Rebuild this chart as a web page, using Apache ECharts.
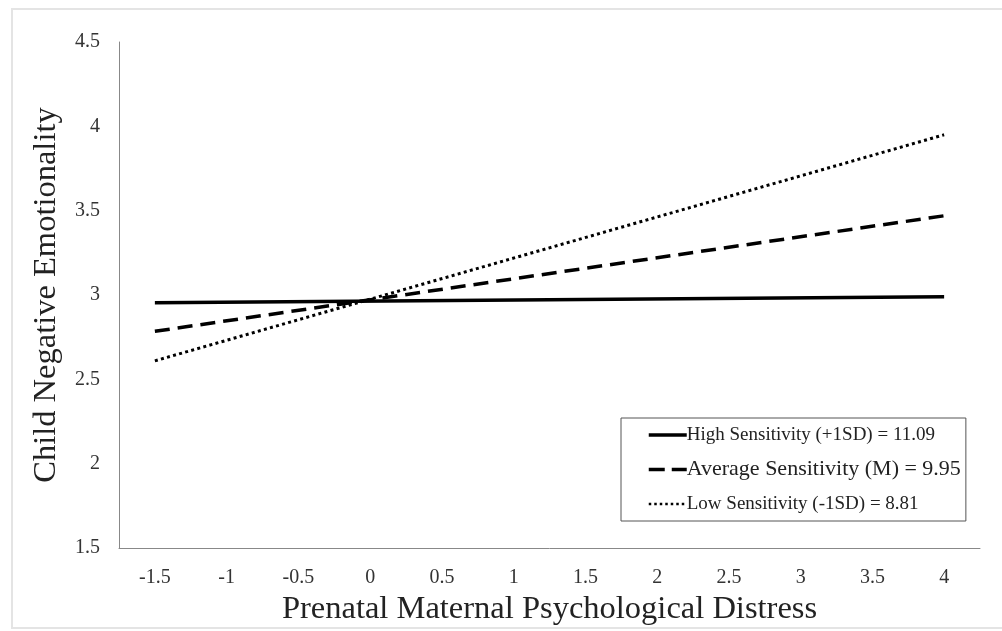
<!DOCTYPE html>
<html><head><meta charset="utf-8">
<script src="https://cdn.jsdelivr.net/npm/echarts@6/dist/echarts.min.js"></script>
<style>html,body{margin:0;padding:0;background:#fff}#c{width:1002px;height:631px}</style>
</head><body><div id="c"></div>
<script>
const categories = ['-1.5','-1','-0.5','0','0.5','1','1.5','2','2.5','3','3.5','4'];
const yTicks = [1.5, 2, 2.5, 3, 3.5, 4, 4.5];
const highSens = [2.955, null, null, null, null, null, null, null, null, null, null, 2.99];
const avgSens  = [2.785, null, null, null, null, null, null, null, null, null, null, 3.47];
const lowSens  = [2.61, null, null, null, null, null, null, null, null, null, null, 3.95];
const names = ['High Sensitivity (+1SD) = 11.09', 'Average Sensitivity (M) = 9.95', 'Low Sensitivity (-1SD) = 8.81'];

const font = 'Liberation Serif, Times New Roman, serif';
const chart = echarts.init(document.getElementById('c'));
chart.setOption({
  backgroundColor: '#fff',
  animation: false,
  graphic: [{type:'rect', shape:{x:12,y:9,width:1000,height:619}, style:{fill:'none', stroke:'#e4e4e4', lineWidth:2}, silent:true}],
  grid: {left:119, top:42, right:22, bottom:80},
  legend: {
    orient:'vertical', left:621, top:418,
    backgroundColor:'#fff', borderColor:'#555', borderWidth:1,
    padding:[7.5,5,7.5,26], itemGap:14, itemWidth:38, itemHeight:14,
    itemStyle:{opacity:0},
    data: [
      {name:names[0], textStyle:{fontSize:19}, lineStyle:{type:'solid', width:3.5, color:'#000'}},
      {name:names[1], textStyle:{fontSize:22}, lineStyle:{type:[16,7], width:3.5, color:'#000'}},
      {name:names[2], textStyle:{fontSize:19}, lineStyle:{type:[2.5,3], width:2.5, color:'#000'}}
    ],
    textStyle:{fontFamily:font, color:'#222', padding:[0,0,0,-5]}
  },
  xAxis: {
    type:'category', data:categories, boundaryGap:true,
    axisLine:{lineStyle:{color:'#888', width:1}},
    axisTick:{show:false},
    axisLabel:{fontFamily:font, fontSize:20, color:'#333', margin:20, interval:0},
    name:'Prenatal Maternal Psychological Distress', nameLocation:'middle', nameGap:44,
    nameTextStyle:{fontFamily:font, fontSize:32.5, color:'#222'}
  },
  yAxis: {
    type:'value', min:1.5, max:4.5, interval:0.5,
    axisLine:{show:true, lineStyle:{color:'#888', width:1}},
    axisTick:{show:false}, splitLine:{show:false},
    axisLabel:{fontFamily:font, fontSize:20, color:'#333', margin:19},
    name:'Child Negative Emotionality', nameLocation:'middle', nameGap:56,
    nameTextStyle:{fontFamily:font, fontSize:32.5, color:'#222'}
  },
  series: [
    {name:names[0], type:'line', data:highSens, connectNulls:true, symbol:'none',
     lineStyle:{color:'#000', width:3.5, type:'solid'}, itemStyle:{color:'#000'}},
    {name:names[1], type:'line', data:avgSens, connectNulls:true, symbol:'none',
     lineStyle:{color:'#000', width:3.5, type:[15,8]}, itemStyle:{color:'#000'}},
    {name:names[2], type:'line', data:lowSens, connectNulls:true, symbol:'none',
     lineStyle:{color:'#000', width:3, type:[3,3.3]}, itemStyle:{color:'#000'}}
  ]
});
</script></body></html>
